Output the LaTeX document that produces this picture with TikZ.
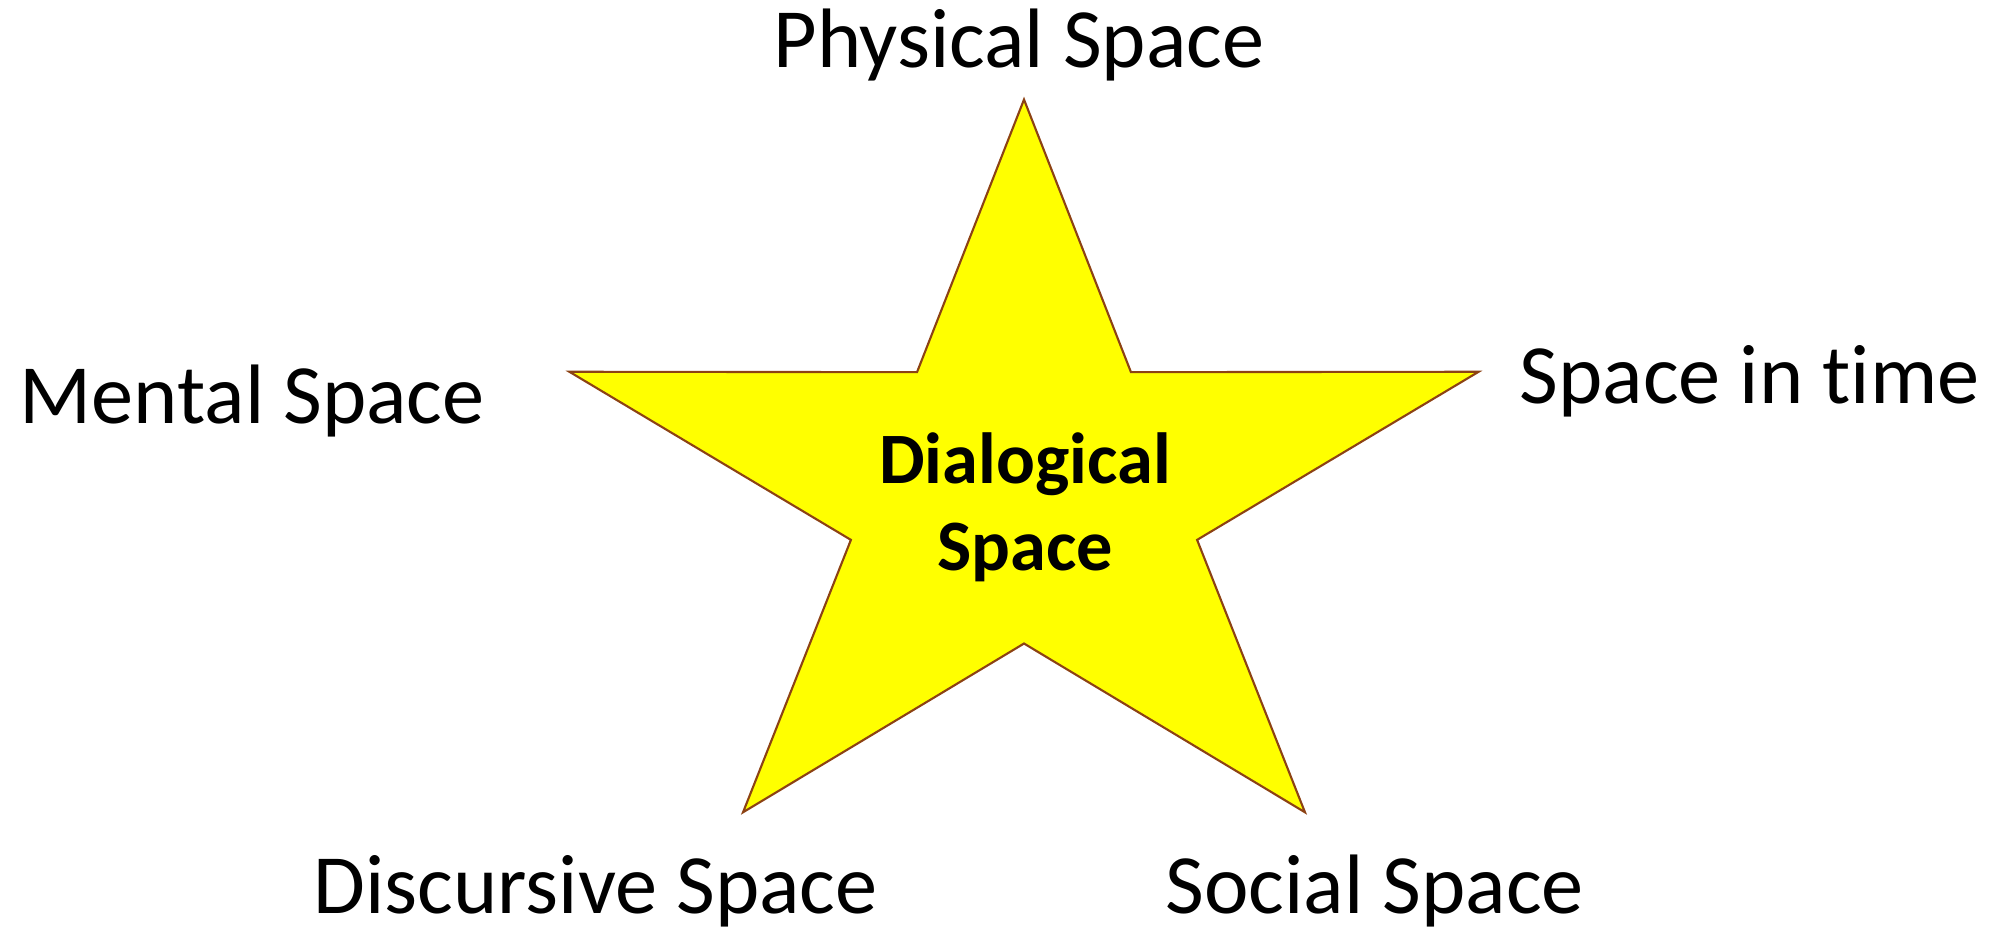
\documentclass[tikz,border=0pt]{standalone}
\usepackage{fontspec}
\setmainfont{Carlito}[Ligatures=NoCommon]
\usepackage{xcolor}
\usetikzlibrary{positioning}

\definecolor{staredge}{RGB}{140,66,20}
\definecolor{staryellow}{RGB}{255,255,0}

\begin{document}
\begin{tikzpicture}[
  spacelabel/.style={font=\fontsize{24}{29}\selectfont, inner sep=0pt, anchor=base west},
  starbody/.style={fill=staryellow, draw=staredge, line width=0.6pt},
]
% frame of the picture
\useasboundingbox (0,0) rectangle (20,-9.4);
% the star
\begin{scope}[shift={(10.24,-4.935)}]
\draw[starbody] (90:4.78 and 3.94)
  \foreach \a in {90,162,234,306}{ -- ({\a+36}:1.82 and 1.50) -- ({\a+72}:4.78 and 3.94) }
  -- (54:1.82 and 1.50) -- cycle;
\end{scope}
% centre text
\node[font=\fontsize{20.6}{24.75}\selectfont\bfseries, align=center, inner sep=0pt, anchor=base] (dialog) at (10.25,-5.70) {Dialogical\\Space};
% the five spaces
\node[spacelabel, anchor=base] (physical) at (10.19,-0.67) {Physical Space};
\node[spacelabel] (mental) at (0.19,-4.23) {Mental Space};
\node[spacelabel] (intime) at (15.19,-4.03) {Space in time};
\node[spacelabel] (discursive) at (3.13,-9.13) {Discursive Space};
\node[spacelabel] (social) at (11.65,-9.13) {Social Space};
\end{tikzpicture}
\end{document}
